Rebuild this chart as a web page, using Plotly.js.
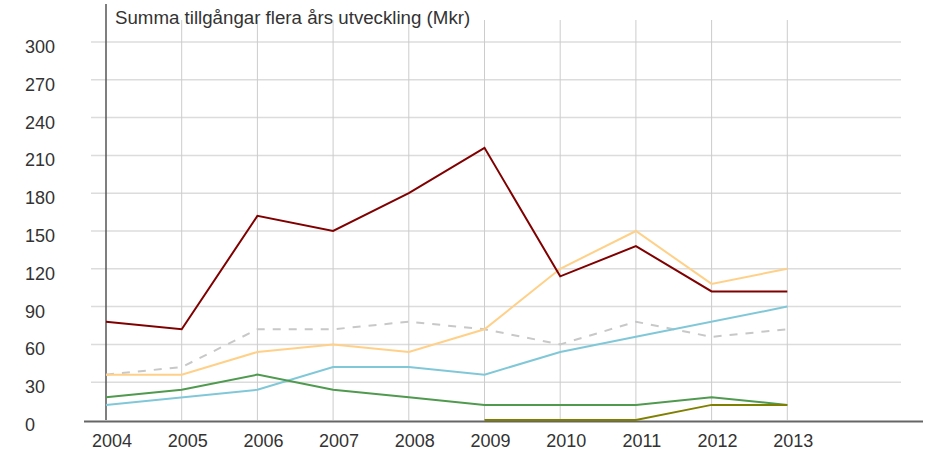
<!DOCTYPE html>
<html>
<head>
<meta charset="utf-8">
<script src="https://cdn.plot.ly/plotly-3.0.1.min.js"></script>
<style>html,body{margin:0;padding:0;background:#fff;}#chart{width:925px;height:452px;}</style>
</head>
<body>
<div id="chart"></div>
<script>
const years = [2004, 2005, 2006, 2007, 2008, 2009, 2010, 2011, 2012, 2013];
const yTicks = [0, 30, 60, 90, 120, 150, 180, 210, 240, 270, 300];
const chartTitle = 'Summa tillgångar flera års utveckling (Mkr)';

const seriesGray = [36, 42, 72, 72, 78, 72, 60, 78, 66, 72];
const seriesBlue = [12, 18, 24, 42, 42, 36, 54, 66, 78, 90];
const seriesGreen = [18, 24, 36, 24, 18, 12, 12, 12, 18, 12];
const seriesOrange = [36, 36, 54, 60, 54, 72, 120, 150, 108, 120];
const seriesRed = [78, 72, 162, 150, 180, 216, 114, 138, 102, 102];
const seriesOlive = [null, null, null, null, null, 0, 0, 0, 12, 12];

const W = 925, H = 452;
const L = 84, R = 2, T = 4, B = 26;
const pxPerYear = 75.7;
const x0px = 106;
const xmin = years[0] - (x0px - L) / pxPerYear;
const xmax = years[0] + (W - R - x0px) / pxPerYear;
const zeroPx = 420;
const pxPerUnit = 1.26;
const ymin = -((H - B) - zeroPx) / pxPerUnit;
const ymax = (zeroPx - T) / pxPerUnit;

const FONT = 'Liberation Sans, Arial, sans-serif';
const TXT = '#333333';

function line(y, color, dash) {
  return {x: years, y: y, type: 'scatter', mode: 'lines', connectgaps: false,
    line: {color: color, width: 2, dash: dash || 'solid'}, hoverinfo: 'skip', showlegend: false};
}
const data = [
  line(seriesGray, '#c8c8c8', '8px,8px'),
  line(seriesBlue, '#80c8d8'),
  line(seriesGreen, '#4f9a4f'),
  line(seriesOrange, '#ffd088'),
  line(seriesRed, '#800000'),
  line(seriesOlive, '#808000')
];

const pxToPaperX = px => (px - L) / (W - L - R);
const pxToPaperY = py => ((H - B) - py) / (H - T - B);
const shapes = [];
// horizontal gridlines
yTicks.slice(1).forEach(v => shapes.push({type: 'line', xref: 'paper', yref: 'y', x0: pxToPaperX(91), x1: pxToPaperX(901), y0: v, y1: v, line: {color: '#dcdcdc', width: 1.5}, layer: 'below'}));
// vertical gridlines
const vTop = (zeroPx - 20) / pxPerUnit;
years.slice(1).forEach(yr => shapes.push({type: 'line', xref: 'x', yref: 'y', x0: yr, x1: yr, y0: 0, y1: vTop, line: {color: '#cccccc', width: 1}, layer: 'below'}));
// left axis line
shapes.push({type: 'line', xref: 'x', yref: 'y', x0: years[0], x1: years[0], y0: 0, y1: ymax, line: {color: '#555555', width: 1.5}, layer: 'below'});
// bottom axis line
shapes.push({type: 'line', xref: 'paper', yref: 'paper', x0: 0, x1: 1, y0: pxToPaperY(421.5), y1: pxToPaperY(421.5), line: {color: '#666666', width: 2}, layer: 'below'});

const annotations = yTicks.map(v => ({
  xref: 'paper', yref: 'y', x: pxToPaperX(23), y: v, xanchor: 'left', yanchor: 'middle', yshift: -5,
  text: String(v), showarrow: false, font: {family: FONT, size: 18, color: TXT}
}));

const layout = {
  width: W, height: H,
  margin: {l: L, r: R, t: T, b: B, pad: 0},
  paper_bgcolor: '#ffffff', plot_bgcolor: '#ffffff',
  showlegend: false,
  title: {text: chartTitle, x: 115 / W, xanchor: 'left', y: 1 - 17 / H, yanchor: 'middle', xref: 'container', yref: 'container',
    font: {family: FONT, size: 18.7, color: TXT}},
  xaxis: {range: [xmin, xmax], showgrid: false, zeroline: false, showline: false,
    tickmode: 'array', tickvals: years, ticktext: years.map(String), ticks: '',
    ticklabelshift: 6, ticklabelstandoff: 2,
    tickfont: {family: FONT, size: 18, color: TXT}, fixedrange: true},
  yaxis: {range: [ymin, ymax], showgrid: false, zeroline: false, showline: false, showticklabels: false, ticks: '', fixedrange: true},
  shapes: shapes,
  annotations: annotations
};

Plotly.newPlot('chart', data, layout, {displayModeBar: false, staticPlot: true});
</script>
</body>
</html>
